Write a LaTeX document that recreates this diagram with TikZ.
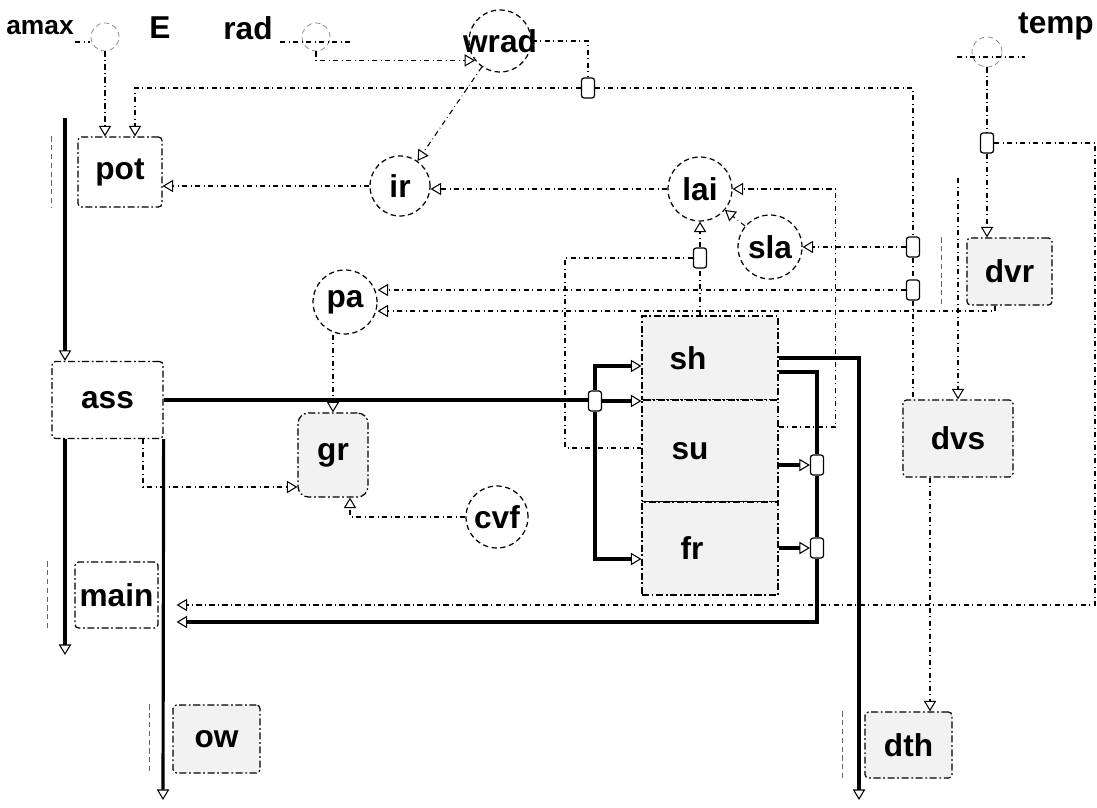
\documentclass[tikz,border=0pt]{standalone}
\usepackage{fontspec}
\setmainfont{Liberation Sans}
\usepackage{tikz}
\usetikzlibrary{arrows.meta,positioning,calc}
\newcommand{\tagfont}{\fontsize{18}{21}\selectfont\bfseries}

\begin{document}
\begin{tikzpicture}[
  x=0.02cm, y=-0.02cm,
  blk/.style    = {draw, dash pattern=on 4pt off 1.5pt on 1pt off 1.5pt, line width=0.7pt,
                   fill=white, rounded corners=2pt, font=\tagfont, inner sep=0pt},
  shd/.style    = {blk, fill=gray!10},
  sec/.style    = {shd, rounded corners=0pt, minimum width=2.72cm},
  var/.style    = {circle, draw, densely dashed, line width=0.7pt, fill=white,
                   minimum size=1.28cm, font=\tagfont, inner sep=0pt},
  src/.style    = {circle, draw=gray, densely dashed, minimum size=0.56cm, inner sep=0pt},
  jn/.style     = {draw, line width=0.7pt, rounded corners=1.5pt, fill=white,
                   minimum width=0.26cm, minimum height=0.4cm, inner sep=0pt},
  txt/.style    = {font=\tagfont, inner sep=0pt},
  sig/.style    = {-{Triangle[open, length=6pt, width=7pt, line width=0.6pt]},
                   dashdotted, line width=0.6pt},
  tap/.style    = {dashdotted, line width=0.6pt},
  bus/.style    = {line width=1.8pt},
  busarr/.style = {bus, -{Triangle[open, length=6pt, width=7pt, line width=0.6pt]}},
  brk/.style    = {densely dashed, line width=0.7pt, gray!80!black},
]
\useasboundingbox (0,0) rectangle (1097,807);

%% ─── labels and sources ───────────────────────────────────────────────────
\node[txt, font=\fontsize{15}{18}\selectfont\bfseries] (amaxlbl) at (40,28) {amax};
\node[txt] (elbl)    at (160,28)  {E};
\node[txt] (radlbl)  at (248,28)  {rad};
\node[txt] (templbl) at (1056,26) {temp};

\node[src] (amaxc) at (105,37) {};
\node[src] (radc)  at (316,37) {};
\node[src, minimum size=0.6cm] (tempc) at (987,52) {};

%% ─── blocks ───────────────────────────────────────────────────────────────
\node[blk, minimum width=1.68cm, minimum height=1.40cm] (pot)  at (120,172)   {pot};
\node[blk, minimum width=2.22cm, minimum height=1.54cm] (ass)  at (107.5,400) {ass};
\node[blk, minimum width=1.66cm, minimum height=1.32cm] (main) at (116.5,595) {main};
\node[shd, minimum width=1.74cm, minimum height=1.36cm] (ow)   at (216.5,739) {ow};
\node[shd, minimum width=1.40cm, minimum height=1.68cm, rounded corners=6pt] (gr) at (333,455) {gr};

\node[sec, minimum height=1.68cm, label={[txt, xshift=-0.44cm]center:sh}] (sh) at (710,358)   {};
\node[sec, minimum height=2.04cm, label={[txt, xshift=-0.40cm]center:su}] (su) at (710,451)   {};
\node[sec, minimum height=1.86cm, label={[txt, xshift=-0.36cm]center:fr}] (fr) at (710,548.5) {};

\node[shd, minimum width=1.70cm, minimum height=1.34cm] (dvr) at (1009.5,271.5) {dvr};
\node[shd, minimum width=2.20cm, minimum height=1.54cm] (dvs) at (958,438.5)    {dvs};
\node[shd, minimum width=1.74cm, minimum height=1.32cm] (dth) at (908.5,745)    {dth};

%% ─── variables ────────────────────────────────────────────────────────────
\node[var, minimum size=1.24cm, inner sep=-0.18cm] (wrad) at (500,41) {wrad};
\node[var, minimum size=1.20cm] (ir)  at (400,186) {ir};
\node[var] (lai) at (700,189) {lai};
\node[var] (sla) at (770,247) {sla};
\node[var] (pa)  at (345,302) {pa};
\node[var, minimum size=1.24cm] (cvf) at (497,517) {cvf};

%% ─── junctions and free ends ──────────────────────────────────────────────
\node[jn] (j1) at (588,88)  {};
\node[jn] (j2) at (987,143) {};
\node[jn] (j3) at (700,258) {};
\node[jn] (j4) at (913,247) {};
\node[jn] (j5) at (913,290) {};
\node[jn] (j6) at (595,401) {};
\node[jn] (j7) at (817,465) {};
\node[jn] (j8) at (817,548) {};

\coordinate (ltop)   at (65,118);
\coordinate (lbot)   at (65,655);
\coordinate (owtap)  at (163,800);
\coordinate (dthtap) at (859,800);
\coordinate (dvrtap) at (958,178);
\coordinate (redge)  at (1095,605);
\coordinate (fbk)    at (565,448);
\coordinate (mainin) at ([xshift=0.36cm]main.east);

%% ─── thin signal lines ────────────────────────────────────────────────────
\foreach \c/\l/\r in {amaxc/0.6/0.3, radc/0.72/1.44, tempc/0.6/1.36}
  \draw[tap] ([xshift=-\l cm, yshift=-0.1cm]\c.center) -- ++(\r cm,0);

\draw[sig] (amaxc.south) -- (amaxc.south |- pot.north);
\draw[sig] (radc.south) |- (wrad.218);
\draw[tap] (wrad.east) -| (j1.north);
\draw[sig] (j1.west) -| ([xshift=0.3cm]pot.north);
\draw[tap] (j1.east) -| (j4.north);
\draw[tap] (j4.south) -- (j5.north);
\draw[tap] (j5.south) -- (j5.south |- dvs.north);
\draw[sig] (j4.west) -- (j4.west -| sla.east);
\draw[sig] (j5.west) -- (j5.west -| pa.east);
\draw[sig] (wrad.235) -- (ir.55);
\draw[sig] (ir.west) -- (ir.west -| pot.east);
\draw[sig] (lai.west) -- (lai.west -| ir.east);
\draw[sig] (sla.140) -- (lai.-40);

\draw[tap] (sh.north -| j3.south) -- (j3.south);
\draw[sig] (j3.north) -- (lai.south);
\draw[tap] (j3.west) -| (fbk) -- (fbk -| su.west);
\draw[sig] ([yshift=0.48cm]su.east) -- ++(1.14cm,0) |- (lai.east);

\draw[tap] (tempc.south) -- (j2.north);
\draw[sig] (j2.south) -- (j2.south |- dvr.north);
\draw[sig] (j2.east) -| (redge) -- (redge -| mainin);
\draw[sig] ([xshift=-0.29cm]dvr.south) |- ([yshift=-0.18cm]pa.east);
\draw[sig] (dvrtap) -- (dvs.north);
\draw[sig] ([xshift=-0.56cm]dvs.south) -- ([xshift=-0.56cm]dvs.south |- dth.north);

\draw[sig] ([xshift=0.71cm]ass.south) |- ([yshift=-0.64cm]gr.west);
\draw[sig] (gr.north |- pa.south) -- (gr.north);
\draw[sig] (cvf.west) -| ([xshift=0.34cm]gr.south);

%% ─── thick lines ──────────────────────────────────────────────────────────
\draw[busarr] (ltop) -- (ltop |- ass.north);
\draw[busarr] (lbot |- ass.south) -- (lbot);
\draw[busarr] (ass.south east) -- (owtap);
\draw[bus]    (ass.east) -- (ass.east -| j6.west);
\draw[busarr] (j6.north) |- ([yshift=-0.16cm]sh.west);
\draw[busarr] (j6.east) -- (j6.east -| su.west);
\draw[busarr] (j6.south) |- ([yshift=-0.21cm]fr.west);

\draw[busarr] (sh.east) -| (dthtap);
\draw[bus]    ([yshift=-0.28cm]sh.east) -| (j7.north);
\draw[bus]    (j7.south) -- (j8.north);
\draw[busarr] (j8.south) |- ([yshift=-0.54cm]mainin);
\draw[busarr] (j7.west -| su.east) -- (j7.west);
\draw[busarr] (j8.west -| fr.east) -- (j8.west);

%% ─── side brackets ────────────────────────────────────────────────────────
\foreach \n/\d in {pot/0.52, main/0.54, ow/0.46, dth/0.44, dvr/0.5}
  \draw[brk] ([xshift=-\d cm]\n.north west) -- ([xshift=-\d cm]\n.south west);

\end{tikzpicture}
\end{document}
